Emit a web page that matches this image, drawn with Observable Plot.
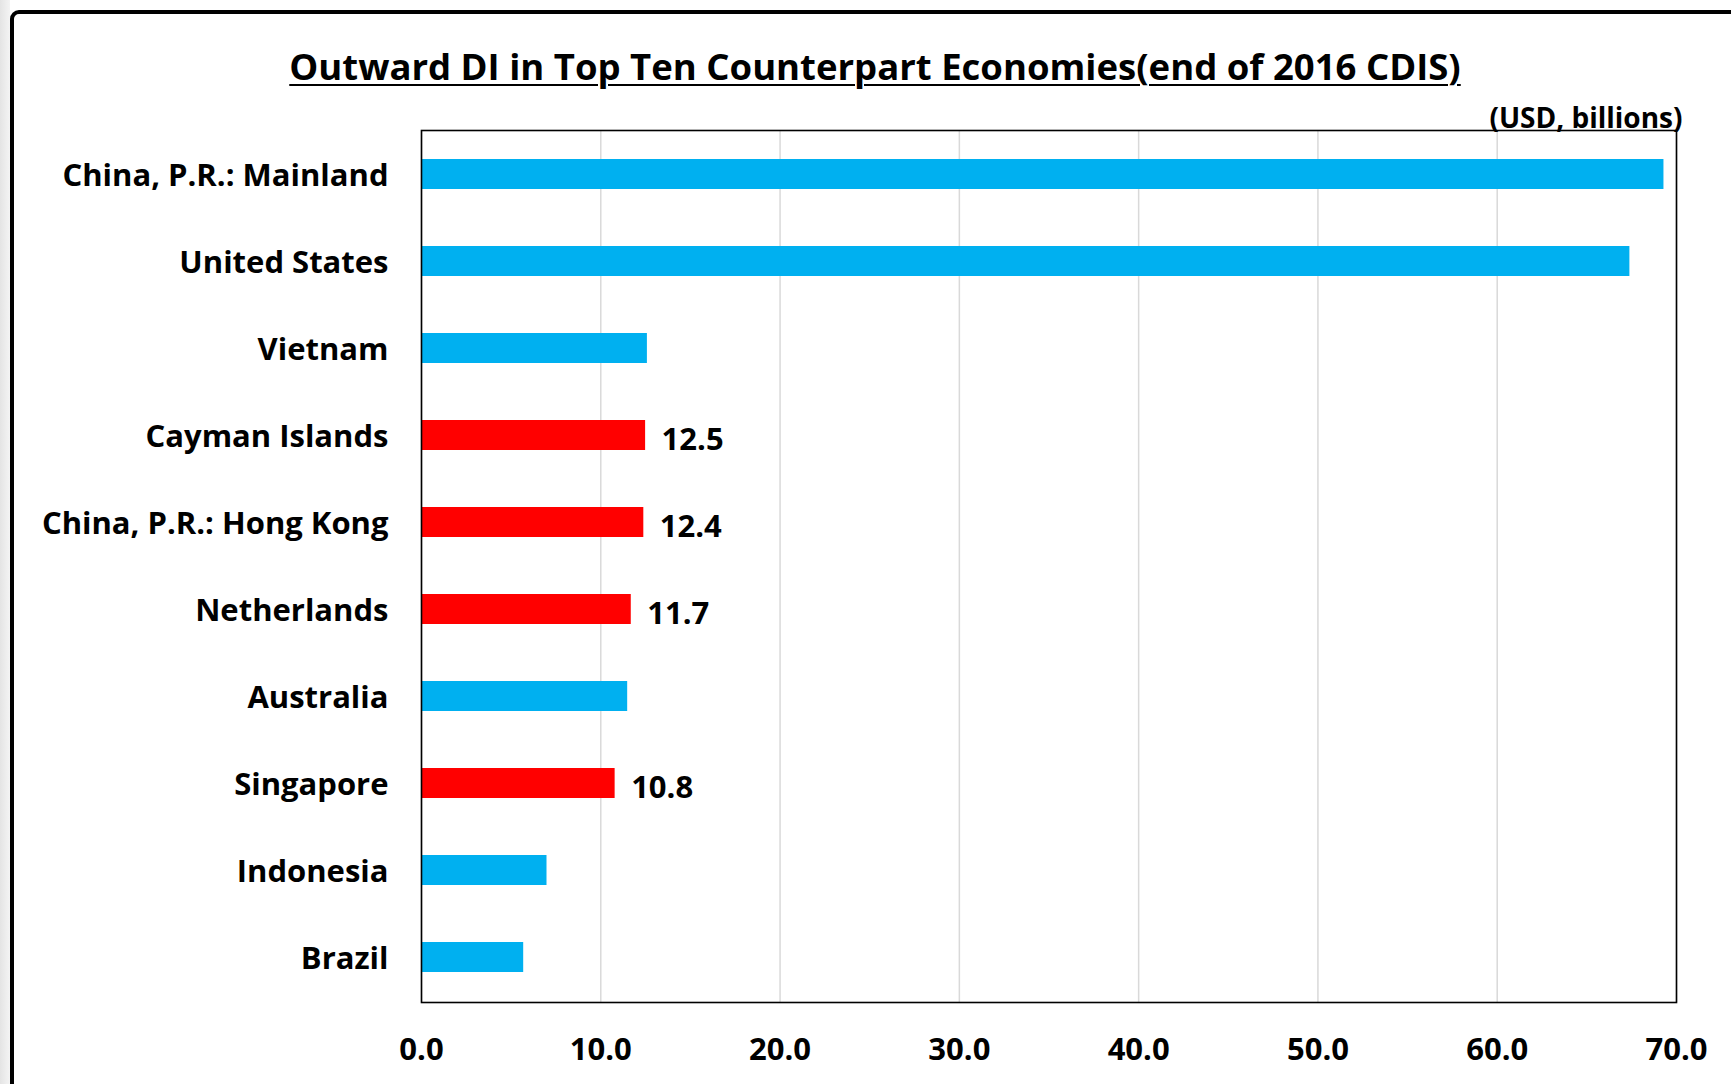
<!DOCTYPE html>
<html>
<head>
<meta charset="utf-8">
<script src="https://cdn.jsdelivr.net/npm/d3@7"></script>
<script src="https://cdn.jsdelivr.net/npm/@observablehq/plot@0.6"></script>
<style>
  html, body { margin: 0; padding: 0; background: #fff; }
  body { width: 1731px; height: 1084px; position: relative; overflow: hidden; font-family: "Open Sans", "Noto Sans", sans-serif; }
  #shade { position: absolute; left: 0; top: 0; width: 10px; height: 1084px; background: linear-gradient(to right, #e4e4e4, #f4f4f4); }
  #frame { position: absolute; left: 10px; top: 10px; width: 1760px; height: 1120px; border: 4px solid #000; border-radius: 9px 0 0 0; box-sizing: border-box; pointer-events: none; }
  #chart { position: absolute; left: 0; top: 0; width: 1731px; }
  #title { height: 95px; position: relative; }
  #title span { position: absolute; left: 0; width: 1750px; top: 48px; text-align: center; font-weight: 700; font-size: 36.5px; line-height: 1; text-decoration: underline; text-decoration-thickness: 2px; text-underline-offset: 4px; color: #000; }
</style>
</head>
<body>
<div id="shade"></div>
<div id="chart">
  <div id="title"><span>Outward DI in Top Ten Counterpart Economies(end of 2016 CDIS)</span></div>
  <div id="plot"></div>
</div>
<div id="frame"></div>
<script>
const countries = ["China, P.R.: Mainland", "United States", "Vietnam", "Cayman Islands", "China, P.R.: Hong Kong", "Netherlands", "Australia", "Singapore", "Indonesia", "Brazil"];
const values = [69.3, 67.4, 12.6, 12.5, 12.4, 11.7, 11.5, 10.8, 7.0, 5.7];
const highlighted = ["Cayman Islands", "China, P.R.: Hong Kong", "Netherlands", "Singapore"];
const xTicks = [0, 10, 20, 30, 40, 50, 60, 70];
const unitLabel = "(USD, billions)";

const data = countries.map((name, i) => ({name, value: values[i], hi: highlighted.includes(name)}));
const labelled = data.filter(d => d.hi);

const chart = Plot.plot({
  width: 1731,
  height: 989,
  marginLeft: 421,
  marginRight: 55,
  marginTop: 35,
  marginBottom: 82,
  style: {fontFamily: "'Open Sans', 'Noto Sans', sans-serif", color: "#000", background: "transparent", overflow: "visible"},
  x: {domain: [0, 70], ticks: xTicks, tickFormat: d3.format(".1f"), label: null},
  y: {domain: countries, paddingInner: 0.65, paddingOuter: 0.325, label: null},
  marks: [
    Plot.gridX(xTicks, {stroke: "#d9d9d9", strokeOpacity: 1, strokeWidth: 1.5}),
    Plot.barX(data, {x: "value", y: "name", fill: d => d.hi ? "#FF0000" : "#00B0F0"}),
    Plot.text(labelled, {x: "value", y: "name", text: d => d3.format(".1f")(d.value), textAnchor: "start", dx: 16, dy: 5, fontSize: 31, fontWeight: "bold", fill: "#000"}),
    Plot.frame({stroke: "#000", strokeWidth: 1.6}),
    Plot.axisX({ticks: xTicks, tickFormat: d3.format(".1f"), tickSize: 0, tickPadding: 35, fontSize: 31, fontWeight: "bold", label: null}),
    Plot.axisY({tickSize: 0, tickPadding: 33, dy: 2, fontSize: 31, fontWeight: "bold", label: null}),
    Plot.text([unitLabel], {frameAnchor: "top-right", dx: 6, dy: -3, lineAnchor: "bottom", textAnchor: "end", fontSize: 28, fontWeight: "bold", fill: "#000"})
  ]
});
document.getElementById("plot").appendChild(chart);
</script>
</body>
</html>
